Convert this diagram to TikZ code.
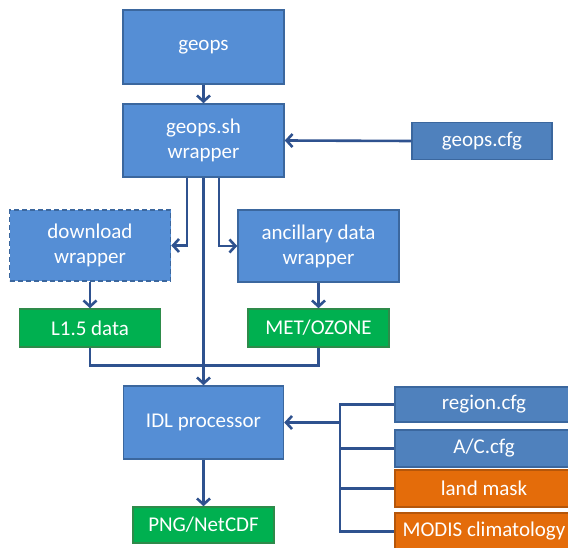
\documentclass[tikz,border=0pt]{standalone}
\usepackage{fontspec}
\setmainfont{Carlito}
\usetikzlibrary{arrows.meta}
\definecolor{boxblue}{HTML}{558ED5}
\definecolor{cfgblue}{HTML}{4F81BD}
\definecolor{edgeblue}{HTML}{3B679E}
\definecolor{datagreen}{HTML}{00B050}
\definecolor{greenedge}{HTML}{2E8B4A}
\definecolor{maskorange}{HTML}{E46C0A}
\definecolor{orangeedge}{HTML}{B5560A}
\definecolor{linkblue}{HTML}{2F528F}
\tikzset{
  box/.style={draw=edgeblue, line width=1.5pt, fill=boxblue, text=white,
    align=center, inner sep=0pt,
    font=\fontsize{21}{25}\selectfont},
  procbox/.style={box, minimum width=161pt, minimum height=73pt},
  cfgbox/.style={box, fill=cfgblue, minimum height=37pt},
  databox/.style={box, fill=datagreen, draw=greenedge, minimum width=141pt, minimum height=37pt},
  maskbox/.style={box, fill=maskorange, draw=orangeedge, minimum height=37pt},
  link/.style={draw=linkblue, line width=2.6pt},
  flow/.style={link, -{Straight Barb[length=6pt,width=13pt,line width=2.6pt]}},
}
\begin{document}
\begin{tikzpicture}[x=1pt, y=-1pt]
\useasboundingbox (0,0) rectangle (568,548);
\fill[white] (0,0) rectangle (568,548);

% main chain
\node[procbox, minimum height=74pt] (geops) at (203.5,47) {geops};
\node[procbox] (sh) at (203.5,140.5) {geops.sh\\wrapper};
\node[cfgbox, minimum width=140pt] (cfg) at (482,141) {geops.cfg};

% wrappers and their data
\node[procbox, dashed, dash pattern=on 5pt off 3pt, minimum height=71pt] (dl) at (90,245.5) {download\\wrapper};
\node[procbox, minimum height=72pt] (anc) at (318.5,246) {ancillary data\\wrapper};
\node[databox, minimum height=38pt] (l15) at (90,328) {L1.5 data};
\node[databox, minimum height=38pt] (met) at (318.5,328) {MET/OZONE};

% processor and output
\node[procbox, minimum width=160pt] (idl) at (203.5,422.5) {IDL processor};
\node[databox, minimum height=36pt] (png) at (203.5,525) {PNG/NetCDF};

% processor inputs
\node[cfgbox, minimum width=178pt, minimum height=35pt] (region) at (484,404.5) {region.cfg};
\node[cfgbox, minimum width=178pt] (ac) at (484,448.5) {A/C.cfg};
\node[maskbox, minimum width=178pt] (land) at (484,488.5) {land mask};
\node[maskbox, minimum width=178pt] (modis) at (484,531.5) {MODIS climatology};

% connectors
\draw[flow] (geops.south) -- (sh.north);
\draw[flow] (cfg.west) -- (sh.east);
\draw[flow] ([xshift=-16.5pt]sh.south) |- (dl.east);
\draw[flow] ([xshift=15.5pt]sh.south) |- (anc.west);
\draw[flow] (sh.south) -- (idl.north);
\draw[flow] (dl.south) -- (l15.north);
\draw[flow] (anc.south) -- (met.north);
\draw[link] (l15.south) -- ++(0,18) -| (met.south);

\coordinate (bt) at (340,404.5);
\coordinate (bb) at (340,531.5);
\draw[link] (region.west) -- (bt) -- (bb) -- (modis.west);
\draw[link] (ac.west) -- (ac.west -| bt);
\draw[link] (land.west) -- (land.west -| bt);
\draw[flow] (bt |- idl.east) -- (idl.east);
\draw[flow] (idl.south) -- (png.north);
\end{tikzpicture}
\end{document}
